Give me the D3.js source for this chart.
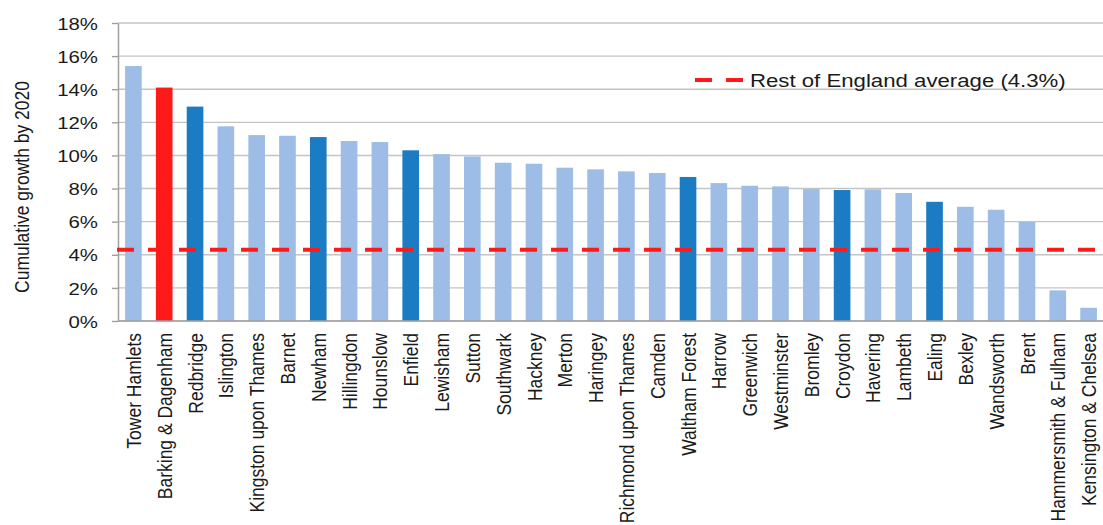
<!DOCTYPE html>
<html>
<head>
<meta charset="utf-8">
<script src="https://cdn.jsdelivr.net/npm/d3@7"></script>
<style>
  body { margin: 0; background: #fff; }
  text { font-family: "Liberation Sans", Arial, sans-serif; fill: #1a1a1a; }
</style>
</head>
<body>
<div id="chart"></div>
<script>
// Data
var boroughs = ["Tower Hamlets", "Barking & Dagenham", "Redbridge", "Islington", "Kingston upon Thames",
    "Barnet", "Newham", "Hillingdon", "Hounslow", "Enfield", "Lewisham", "Sutton", "Southwark",
    "Hackney", "Merton", "Haringey", "Richmond upon Thames", "Camden", "Waltham Forest", "Harrow",
    "Greenwich", "Westminster", "Bromley", "Croydon", "Havering", "Lambeth", "Ealing", "Bexley",
    "Wandsworth", "Brent", "Hammersmith & Fulham", "Kensington & Chelsea"];
var growth = [15.4, 14.1, 12.95, 11.76, 11.23, 11.19, 11.11, 10.87, 10.81, 10.31, 10.08, 9.94, 9.56,
    9.50, 9.26, 9.16, 9.04, 8.94, 8.70, 8.33, 8.17, 8.13, 7.97, 7.91, 7.95, 7.73, 7.20, 6.90,
    6.72, 5.98, 1.85, 0.80];
// highlight group: 0 = other, 1 = highlighted borough, 2 = Barking & Dagenham
var highlight = [0, 2, 1, 0, 0, 0, 1, 0, 0, 1, 0, 0, 0, 0, 0, 0, 0, 0, 1, 0, 0, 0, 0, 1, 0, 0, 1, 0, 0, 0, 0, 0];
var yTicks = [0, 2, 4, 6, 8, 10, 12, 14, 16, 18];
var englandAvg = 4.3;
var legendLabel = "Rest of England average (4.3%)";
var yTitle = "Cumulative growth by 2020";

// Sizing
var width = 1103;
var height = 525;
var plotLeft = 118, plotRight = 1104, plotTop = 23, plotBottom = 321;
var stretch = 1.2; // text in the picture is a bit wide

var colours = ["#9dbde6", "#1b7cc4", "#ff1a1a"];

var svg = d3.select("#chart")
    .append("svg")
    .attr("width", width)
    .attr("height", height);

var x = d3.scaleBand()
    .domain(boroughs)
    .range([plotLeft, plotRight])
    .paddingInner(0.46)
    .paddingOuter(0.23);

var y = d3.scaleLinear()
    .domain([0, 18])
    .range([plotBottom, plotTop]);

// Gridlines
svg.append("g")
    .selectAll("line")
    .data(yTicks)
    .enter()
    .append("line")
    .attr("x1", plotLeft)
    .attr("x2", 1103)
    .attr("y1", d => y(d))
    .attr("y2", d => y(d))
    .attr("stroke", "#c4c4c4")
    .attr("stroke-width", 1.4);

// Bars
svg.append("g")
    .selectAll("rect")
    .data(boroughs)
    .enter()
    .append("rect")
    .attr("x", d => x(d))
    .attr("width", x.bandwidth())
    .attr("y", (d, i) => y(growth[i]))
    .attr("height", (d, i) => y(0) - y(growth[i]))
    .attr("fill", (d, i) => colours[highlight[i]]);

// Y axis
var yAxis = svg.append("g")
    .attr("transform", `translate(${plotLeft},0)`)
    .call(d3.axisLeft(y).tickValues(yTicks).tickSize(6).tickSizeOuter(0)
        .tickFormat(d => d + "%"));
yAxis.select(".domain").attr("stroke", "#a0a0a0").attr("stroke-width", 1.5);
yAxis.selectAll(".tick line").attr("stroke", "#a0a0a0").attr("stroke-width", 1.4);
yAxis.selectAll(".tick text")
    .attr("x", 0)
    .attr("dy", "0.36em")
    .attr("transform", `translate(-20,0) scale(${stretch},1)`)
    .attr("text-anchor", "end")
    .style("font-size", "17px")
    .style("fill", "#1a1a1a");

// X axis
var xAxis = svg.append("g")
    .attr("transform", `translate(0,${plotBottom})`)
    .call(d3.axisBottom(x).tickSize(0).tickSizeOuter(0));
xAxis.select(".domain").remove();
xAxis.selectAll(".tick text")
    .attr("x", 0)
    .attr("y", 0)
    .attr("dy", "0.36em")
    .attr("transform", `translate(0,12) scale(${stretch},1) rotate(-90)`)
    .attr("text-anchor", "end")
    .style("font-size", "17.5px")
    .style("fill", "#1a1a1a");

svg.append("line")
    .attr("x1", plotLeft)
    .attr("x2", 1103)
    .attr("y1", plotBottom)
    .attr("y2", plotBottom)
    .attr("stroke", "#a0a0a0")
    .attr("stroke-width", 1.5);

// England average line
svg.append("line")
    .attr("x1", plotLeft - 1)
    .attr("x2", 1103)
    .attr("y1", y(englandAvg))
    .attr("y2", y(englandAvg))
    .attr("stroke", "#ff1a1a")
    .attr("stroke-width", 4)
    .attr("stroke-dasharray", "17,14");

// Legend
svg.append("line")
    .attr("x1", 695)
    .attr("x2", 743)
    .attr("y1", 80)
    .attr("y2", 80)
    .attr("stroke", "#ff1a1a")
    .attr("stroke-width", 4)
    .attr("stroke-dasharray", "17,14");

svg.append("text")
    .attr("transform", `translate(750,80) scale(${stretch},1)`)
    .attr("dy", "0.36em")
    .style("font-size", "18.5px")
    .text(legendLabel);

// Y title
svg.append("text")
    .attr("transform", `translate(28.5,187) scale(${stretch},1) rotate(-90)`)
    .attr("text-anchor", "middle")
    .style("font-size", "17.5px")
    .text(yTitle);
</script>
</body>
</html>
